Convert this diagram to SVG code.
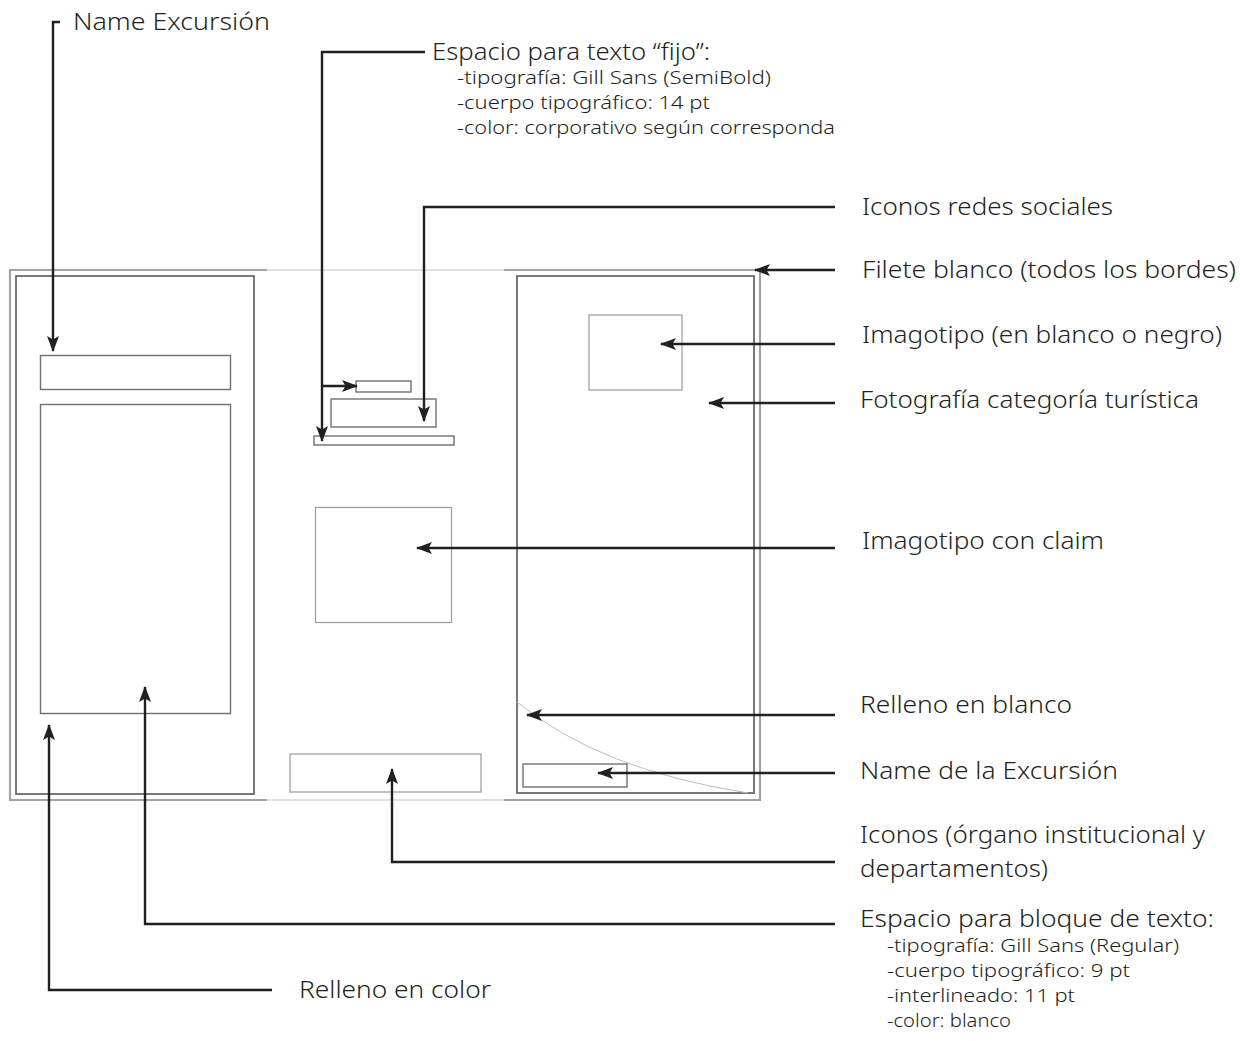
<svg xmlns="http://www.w3.org/2000/svg" width="1240" height="1041" viewBox="0 0 1240 1041">
  <style>
    .label { font-family: "Noto Sans", "Lato", sans-serif; font-weight: 300; font-size: 24px; fill: #231f20; }
    .sub { font-family: "Noto Sans", "Lato", sans-serif; font-weight: 300; font-size: 18px; fill: #231f20; }
    .frame { fill: none; stroke: #a3a3a3; stroke-width: 2.2; }
    .thin { fill: none; stroke: #c4c4c4; stroke-width: 1.2; }
    .panel { fill: none; stroke: #6a6a6a; stroke-width: 1.8; }
    .box { fill: none; stroke: #707070; stroke-width: 1.4; }
    .boxlight { fill: none; stroke: #9a9a9a; stroke-width: 1.2; }
    .conn { fill: none; stroke: #231f20; stroke-width: 2.4; }
  </style>
  <defs>
    <marker id="arrow" viewBox="0 0 16 12" refX="15" refY="6" markerWidth="16" markerHeight="12" markerUnits="userSpaceOnUse" orient="auto">
      <path d="M0,0 L16,6 L0,12 L3.5,6 Z" fill="#231f20"/>
    </marker>
  </defs>
  <rect width="1240" height="1041" fill="#ffffff"/>

  <!-- outer trim of the folded sheet -->
  <g id="sheet">
    <path class="frame" d="M267,270 H10 V800 H267"/>
    <path class="frame" d="M504,270 H760 V800 H504"/>
    <path class="thin" d="M267,270 H504 M267,800 H504"/>
  </g>

  <!-- left panel -->
  <g id="left-panel">
    <rect class="panel" x="16" y="276" width="238" height="518"/>
    <rect id="name-box" class="box" x="40.5" y="355.5" width="190" height="34"/>
    <rect id="text-block" class="box" x="40.5" y="404.5" width="190" height="309"/>
  </g>

  <!-- central panel -->
  <g id="center-panel">
    <rect id="fixed-text-small" class="box" x="356" y="381" width="55" height="11"/>
    <rect id="social-icons" class="box" x="331" y="399" width="105" height="28"/>
    <rect id="fixed-text-bar" class="box" x="314" y="436" width="140" height="9"/>
    <rect id="logo-claim" class="boxlight" x="315.5" y="507.5" width="136" height="115"/>
    <rect id="institutional-icons" class="boxlight" x="290" y="754" width="191" height="38"/>
  </g>

  <!-- right panel -->
  <g id="right-panel">
    <rect class="panel" x="517" y="276" width="237" height="517"/>
    <rect id="logo" class="boxlight" x="589" y="315" width="93" height="75"/>
    <path id="white-fill" d="M517,702 Q600,770 748,793" fill="none" stroke="#bdbdbd" stroke-width="1"/>
    <rect id="excursion-name" class="box" x="523" y="764" width="104" height="23"/>
  </g>

  <!-- leader lines -->
  <g id="connectors">
    <path class="conn" d="M60,22 H53 V351" marker-end="url(#arrow)"/>
    <path class="conn" d="M425,52 H322 V441" marker-end="url(#arrow)"/>
    <path class="conn" d="M322,386 H357" marker-end="url(#arrow)"/>
    <path class="conn" d="M835,207 H424 V421" marker-end="url(#arrow)"/>
    <path class="conn" d="M835,270 H755" marker-end="url(#arrow)"/>
    <path class="conn" d="M835,344 H661" marker-end="url(#arrow)"/>
    <path class="conn" d="M835,403 H709" marker-end="url(#arrow)"/>
    <path class="conn" d="M835,548 H417" marker-end="url(#arrow)"/>
    <path class="conn" d="M835,715 H527" marker-end="url(#arrow)"/>
    <path class="conn" d="M835,773 H598" marker-end="url(#arrow)"/>
    <path class="conn" d="M835,862 H392 V769" marker-end="url(#arrow)"/>
    <path class="conn" d="M835,924 H145 V687" marker-end="url(#arrow)"/>
    <path class="conn" d="M272,990 H49 V725" marker-end="url(#arrow)"/>
  </g>

  <!-- labels -->
  <g id="labels">
    <text class="label" x="73" y="30" textLength="197" lengthAdjust="spacingAndGlyphs">Name Excursión</text>
    <g id="label-fixed-text">
      <text class="label" x="432" y="60" textLength="278" lengthAdjust="spacingAndGlyphs">Espacio para texto “fijo”:</text>
      <text class="sub" x="457" y="84" textLength="314" lengthAdjust="spacingAndGlyphs">-tipografía: Gill Sans (SemiBold)</text>
      <text class="sub" x="457" y="109" textLength="253" lengthAdjust="spacingAndGlyphs">-cuerpo tipográfico: 14 pt</text>
      <text class="sub" x="457" y="134" textLength="378" lengthAdjust="spacingAndGlyphs">-color: corporativo según corresponda</text>
    </g>
    <text class="label" x="862" y="215" textLength="251" lengthAdjust="spacingAndGlyphs">Iconos redes sociales</text>
    <text class="label" x="862" y="278" textLength="374" lengthAdjust="spacingAndGlyphs">Filete blanco (todos los bordes)</text>
    <text class="label" x="862" y="343" textLength="360" lengthAdjust="spacingAndGlyphs">Imagotipo (en blanco o negro)</text>
    <text class="label" x="860" y="408" textLength="339" lengthAdjust="spacingAndGlyphs">Fotografía categoría turística</text>
    <text class="label" x="862" y="549" textLength="242" lengthAdjust="spacingAndGlyphs">Imagotipo con claim</text>
    <text class="label" x="860" y="713" textLength="212" lengthAdjust="spacingAndGlyphs">Relleno en blanco</text>
    <text class="label" x="860" y="779" textLength="258" lengthAdjust="spacingAndGlyphs">Name de la Excursión</text>
    <text class="label" x="860" y="843" textLength="345" lengthAdjust="spacingAndGlyphs">Iconos (órgano institucional y</text>
    <text class="label" x="860" y="877" textLength="188" lengthAdjust="spacingAndGlyphs">departamentos)</text>
    <g id="label-text-block">
      <text class="label" x="860" y="927" textLength="354" lengthAdjust="spacingAndGlyphs">Espacio para bloque de texto:</text>
      <text class="sub" x="887" y="952" textLength="292" lengthAdjust="spacingAndGlyphs">-tipografía: Gill Sans (Regular)</text>
      <text class="sub" x="887" y="977" textLength="243" lengthAdjust="spacingAndGlyphs">-cuerpo tipográfico: 9 pt</text>
      <text class="sub" x="887" y="1002" textLength="188" lengthAdjust="spacingAndGlyphs">-interlineado: 11 pt</text>
      <text class="sub" x="887" y="1027" textLength="124" lengthAdjust="spacingAndGlyphs">-color: blanco</text>
    </g>
    <text class="label" x="299" y="998" textLength="192" lengthAdjust="spacingAndGlyphs">Relleno en color</text>
  </g>
</svg>
